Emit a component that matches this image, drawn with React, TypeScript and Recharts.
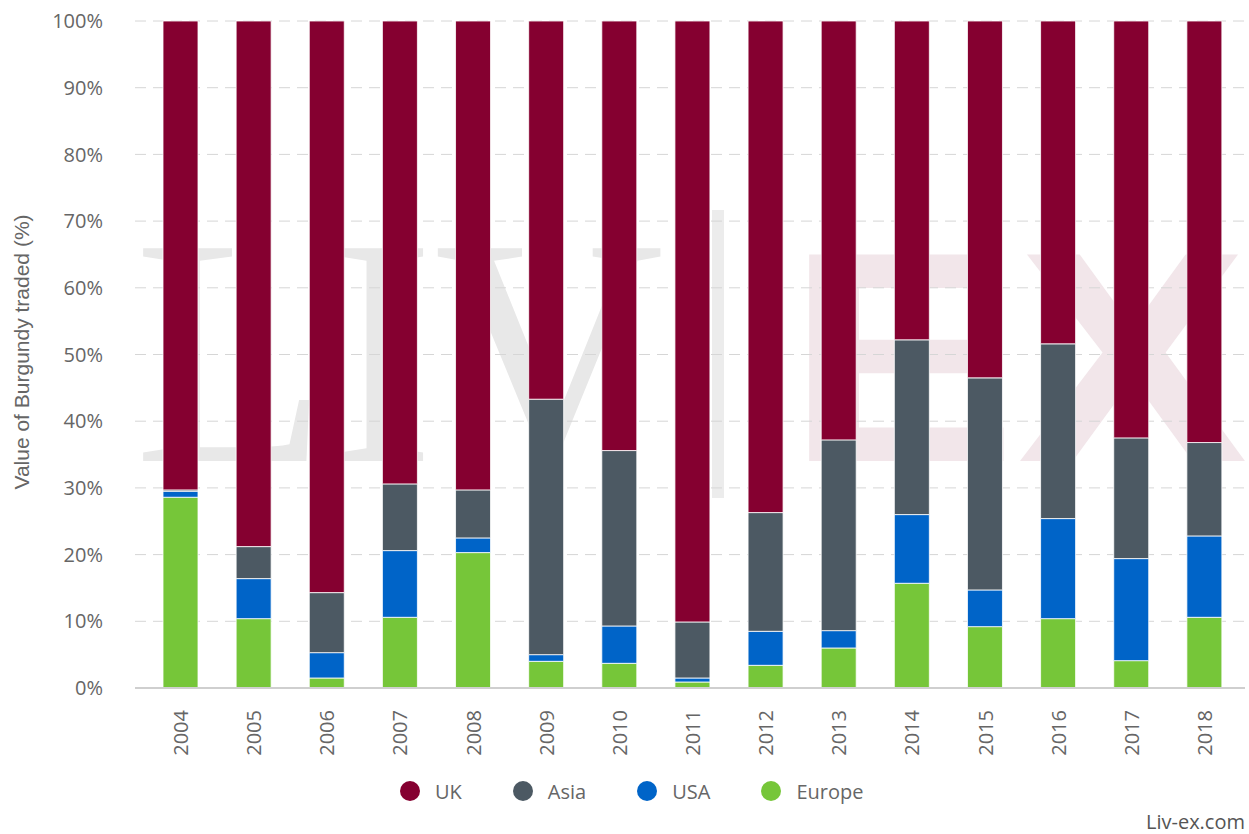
import { BarChart, Bar, XAxis, YAxis, CartesianGrid } from 'recharts';

// Share of Burgundy value traded by region
const years = ['2004', '2005', '2006', '2007', '2008', '2009', '2010', '2011', '2012', '2013', '2014', '2015', '2016', '2017', '2018'];
const ukShare = [70.3, 78.8, 85.7, 69.4, 70.3, 56.7, 64.4, 90.1, 73.7, 62.8, 47.8, 53.5, 48.4, 62.5, 63.2];
const asiaShare = [0.2, 4.8, 9.0, 10.0, 7.2, 38.3, 26.3, 8.4, 17.8, 28.6, 26.2, 31.8, 26.2, 18.1, 14.0];
const usaShare = [0.9, 6.0, 3.8, 10.0, 2.2, 1.0, 5.6, 0.6, 5.1, 2.6, 10.3, 5.5, 15.0, 15.3, 12.2];
const europeShare = [28.6, 10.4, 1.5, 10.6, 20.3, 4.0, 3.7, 0.9, 3.4, 6.0, 15.7, 9.2, 10.4, 4.1, 10.6];
const yTicks = [0, 10, 20, 30, 40, 50, 60, 70, 80, 90, 100];

const data = years.map((year, i) => ({
  year,
  europe: europeShare[i],
  usa: usaShare[i],
  asia: asiaShare[i],
  uk: ukShare[i],
}));

const COLORS = {
  uk: '#850030',
  asia: '#4c5963',
  usa: '#0064c8',
  europe: '#76c639',
};

const legendItems = [
  { key: 'uk', label: 'UK' },
  { key: 'asia', label: 'Asia' },
  { key: 'usa', label: 'USA' },
  { key: 'europe', label: 'Europe' },
];

const FONT = '"Open Sans", "Noto Sans", sans-serif';
const TEXT = '#666';

const YearTick = ({ x, y, payload }: any) => (
  <text
    x={x}
    y={y}
    transform={`rotate(-90, ${x}, ${y})`}
    textAnchor="end"
    dominantBaseline="central"
    fill={TEXT}
    fontSize={20}
    fontFamily={FONT}
  >
    {payload.value}
  </text>
);

function Watermark() {
  return (
    <svg width={1249} height={834} style={{ position: 'absolute', left: 0, top: 0 }}>
      <text
        x={134}
        y={461}
        fontFamily='"Liberation Serif", "DejaVu Serif", serif'
        fontSize={325}
        fill="#e8e8e8"
        textLength={530}
        lengthAdjust="spacingAndGlyphs"
      >
        LIV
      </text>
      <rect x={712} y={210} width={12} height={288} fill="#ececec" />
      <text
        x={786}
        y={461}
        fontFamily='"Liberation Sans", Arial, sans-serif'
        fontWeight={700}
        fontSize={300}
        fill="#f2e6ea"
        textLength={462}
        lengthAdjust="spacingAndGlyphs"
      >
        EX
      </text>
    </svg>
  );
}

export default function App() {
  return (
    <div style={{ position: 'relative', width: 1249, height: 834, background: '#fff', fontFamily: FONT }}>
      <style>{'body{margin:0}'}</style>
      <Watermark />
      <div style={{ position: 'absolute', left: 0, top: 0 }}>
        <BarChart
          width={1249}
          height={834}
          data={data}
          margin={{ top: 21, right: 4, bottom: 0, left: 0 }}
          barSize={35}
        >
          <CartesianGrid vertical={false} stroke="#d6d6d6" strokeDasharray="11 7" />
          <XAxis
            dataKey="year"
            interval={0}
            padding={{ left: 9, right: 4 }}
            axisLine={{ stroke: '#cfcfcf', strokeWidth: 2 }}
            tickLine={false}
            tickSize={0}
            tickMargin={22}
            height={146}
            tick={<YearTick />}
          />
          <YAxis
            width={135}
            domain={[0, 100]}
            ticks={yTicks}
            tickFormatter={(v: number) => `${v}%`}
            axisLine={false}
            tickLine={false}
            tickSize={0}
            tickMargin={32}
            tick={{ fill: TEXT, fontSize: 20, fontFamily: FONT }}
          />
          <Bar dataKey="europe" stackId="a" fill={COLORS.europe} stroke="#fff" strokeWidth={0.8} isAnimationActive={false} />
          <Bar dataKey="usa" stackId="a" fill={COLORS.usa} stroke="#fff" strokeWidth={0.8} isAnimationActive={false} />
          <Bar dataKey="asia" stackId="a" fill={COLORS.asia} stroke="#fff" strokeWidth={0.8} isAnimationActive={false} />
          <Bar dataKey="uk" stackId="a" fill={COLORS.uk} stroke="#fff" strokeWidth={0.8} isAnimationActive={false} />
        </BarChart>
      </div>
      <div
        style={{
          position: 'absolute',
          left: 22,
          top: 352,
          transform: 'translate(-50%, -50%) rotate(-90deg)',
          whiteSpace: 'nowrap',
          fontFamily: '"Liberation Sans", Arial, sans-serif',
          fontSize: 21,
          color: TEXT,
        }}
      >
        Value of Burgundy traded (%)
      </div>
      <div style={{ position: 'absolute', left: 400, top: 779, display: 'flex', alignItems: 'center', height: 24 }}>
        {legendItems.map((item) => (
          <div key={item.key} style={{ display: 'flex', alignItems: 'center', marginRight: 51 }}>
            <span
              style={{
                display: 'inline-block',
                width: 20,
                height: 20,
                borderRadius: '50%',
                background: COLORS[item.key as keyof typeof COLORS],
                marginRight: 15,
              }}
            />
            <span style={{ fontSize: 20, color: TEXT }}>{item.label}</span>
          </div>
        ))}
      </div>
      <div style={{ position: 'absolute', right: 4, top: 808, fontSize: 20, color: '#555' }}>Liv-ex.com</div>
    </div>
  );
}
